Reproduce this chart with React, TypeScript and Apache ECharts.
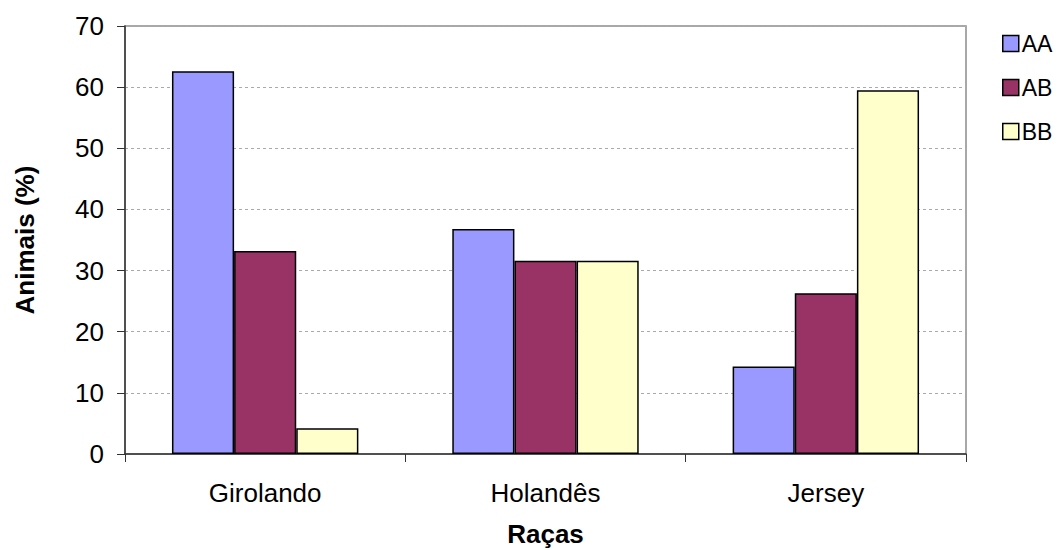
import React, { useEffect, useRef } from "react";
import * as echarts from "echarts";

const categories = ["Girolando", "Holandês", "Jersey"];
const seriesNames = ["AA", "AB", "BB"];
const aaValues = [62.6, 36.8, 14.3];
const abValues = [33.2, 31.6, 26.3];
const bbValues = [4.2, 31.6, 59.5];
const colors = ["#9999FF", "#993366", "#FFFFCC"];

export default function App() {
  const ref = useRef<HTMLDivElement>(null);
  useEffect(() => {
    const chart = echarts.init(ref.current!, null, { renderer: "svg" });
    const data = [aaValues, abValues, bbValues];
    chart.setOption({
      animation: false,
      textStyle: { fontFamily: "Liberation Sans, Arial, sans-serif" },
      grid: {
        left: 125,
        right: 91,
        top: 26,
        bottom: 96,
        containLabel: false,
        outerBoundsMode: "none",
        show: true,
        borderColor: "#8c8c8c",
        borderWidth: 1.5,
      },
      legend: {
        orient: "vertical",
        left: 997,
        top: 27,
        itemWidth: 16,
        itemHeight: 16,
        itemGap: 21,
        icon: "rect",
        itemStyle: { borderColor: "#000", borderWidth: 1.5 },
        textStyle: { fontSize: 23, color: "#000", padding: [0, 0, 0, -2] },
        data: seriesNames,
      },
      xAxis: {
        type: "category",
        data: categories,
        name: "Raças",
        nameLocation: "middle",
        nameGap: 67,
        nameTextStyle: { fontSize: 26, fontWeight: "bold", color: "#000" },
        axisLine: { lineStyle: { color: "#333", width: 1.5 } },
        axisTick: { show: true, length: 8, lineStyle: { color: "#333" } },
        axisLabel: { fontSize: 26, color: "#000", margin: 26 },
        splitLine: { show: false },
      },
      yAxis: {
        type: "value",
        min: 0,
        max: 70,
        interval: 10,
        name: "Animais (%)",
        nameLocation: "middle",
        nameGap: 87,
        nameRotate: 90,
        nameTextStyle: { fontSize: 26, fontWeight: "bold", color: "#000" },
        axisLine: { show: true, lineStyle: { color: "#333", width: 1.5 } },
        axisTick: { show: true, length: 8, lineStyle: { color: "#333" } },
        axisLabel: { fontSize: 26, color: "#000", margin: 21 },
        splitLine: { show: true, lineStyle: { color: "#aaa", type: [3, 3] } },
      },
      series: seriesNames.map((name, i) => ({
        name,
        type: "bar",
        data: data[i],
        barGap: "0%",
        barCategoryGap: "33.5%",
        itemStyle: { color: colors[i], borderColor: "#000", borderWidth: 1.5 },
      })),
    });
    return () => chart.dispose();
  }, []);
  return <div ref={ref} style={{ width: 1057, height: 550, position: "absolute", left: 0, top: 0 }} />;
}
